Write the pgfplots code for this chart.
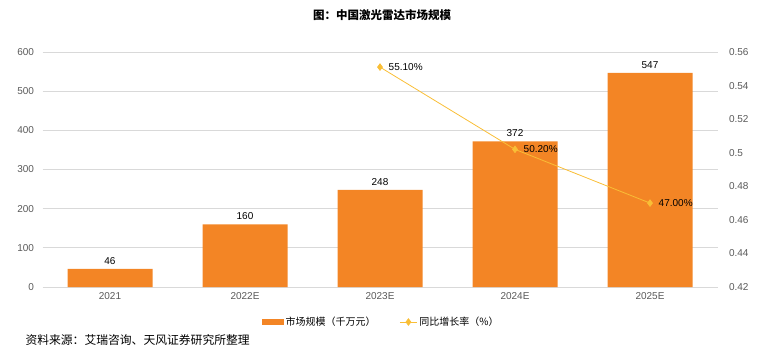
\documentclass[border=0pt]{standalone}
\usepackage{pgfplots}
\pgfplotsset{compat=1.18}
\usepackage{fontspec}
\setmainfont{Liberation Sans}
\newfontfamily\cjk{Noto Sans CJK SC}
\definecolor{barc}{HTML}{F38525}
\definecolor{linec}{HTML}{F9BE36}
\definecolor{gridc}{HTML}{D9D9D9}
\definecolor{tickc}{HTML}{595959}
\begin{document}
\begin{tikzpicture}[x=1pt,y=1pt]
\path[use as bounding box] (0,0) rectangle (781,356);
\begin{axis}[
  at={(42.5pt,69pt)}, anchor=south west,
  scale only axis, width=675pt, height=235pt,
  xmin=-0.5, xmax=4.5, ymin=0, ymax=600,
  ytick={0,100,...,600},
  xtick={0,1,2,3,4},
  xticklabels={2021,2022E,2023E,2024E,2025E},
  ymajorgrids, grid style={gridc, line width=0.8pt},
  axis line style={draw=none},
  major tick length=0pt,
  tick label style={font=\fontsize{10}{12}\selectfont, text=tickc},
  /pgf/number format/assume math mode=true,
  yticklabel style={xshift=-5pt},
  xticklabel style={yshift=-2pt},
  ybar, bar width=85pt,
  nodes near coords,
  nodes near coords style={font=\fontsize{10}{12}\selectfont, text=black, yshift=1pt},
  clip=false,
]
\addplot[fill=barc, draw=none] coordinates {(0,46) (1,160) (2,248) (3,372) (4,547)};
\end{axis}
\begin{axis}[
  at={(42.5pt,69pt)}, anchor=south west,
  scale only axis, width=675pt, height=235pt,
  xmin=-0.5, xmax=4.5, ymin=0.42, ymax=0.56,
  ytick={0.42,0.44,0.46,0.48,0.5,0.52,0.54,0.56},
  yticklabels={0.42,0.44,0.46,0.48,0.5,0.52,0.54,0.56},
  axis y line*=right, axis x line=none,
  axis line style={draw=none},
  major tick length=0pt,
  tick label style={font=\fontsize{10}{12}\selectfont, text=tickc},
  yticklabel style={xshift=8pt},
  clip=false,
  legend style={at={(0.502,-0.149)}, anchor=center, draw=none, fill=none,
    legend columns=2, font=\cjk\fontsize{10}{12}\selectfont,
    /tikz/every even column/.append style={column sep=22pt}},
]
\addlegendimage{legend image code/.code={\fill[barc] (0pt,-2.5pt) rectangle (21pt,2.5pt);}}
\addlegendentry{市场规模（千万元）}
\addplot[color=linec, line width=0.8pt, mark=diamond*, mark size=3.2pt,
  mark options={fill=linec, draw=linec},
  nodes near coords, point meta=explicit symbolic,
  nodes near coords style={anchor=west, font=\fontsize{10}{12}\selectfont, text=black, xshift=5pt}]
  table[meta=lab] {
x y lab
2 0.551 55.10\%
3 0.502 50.20\%
4 0.470 47.00\%
};
\addlegendentry{同比增长率（\%）}
\end{axis}
\node[font=\cjk\bfseries\fontsize{11.5}{13}\selectfont] at (382,341) {图：中国激光雷达市场规模};
\node[anchor=west, font=\cjk\fontsize{11.8}{13}\selectfont] at (22,16) {资料来源：艾瑞咨询、天风证券研究所整理};
\end{tikzpicture}
\end{document}
